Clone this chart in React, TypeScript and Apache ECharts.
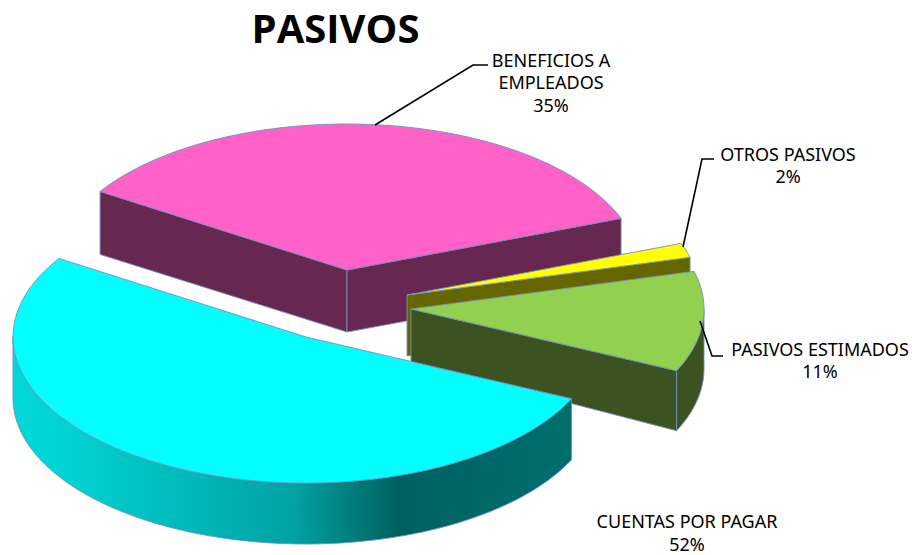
import React, { useEffect, useRef } from "react";
import * as echarts from "echarts";

const titleText = "PASIVOS";
const categories = ["CUENTAS POR PAGAR", "BENEFICIOS A\nEMPLEADOS", "OTROS PASIVOS", "PASIVOS ESTIMADOS"];
const values = [52.1, 35.2, 1.6, 11.1];

const topColors = ["#00FFFF", "#FF61C8", "#FFFF00", "#92D050"];
const cutColors = ["#006B6B", "#662850", "#666600", "#3C5220"];
const centers = [[306, 337], [347, 270], [407, 295], [411, 309]];
const depths = [61, 63, 60, 60];
const apexDepths = [61, 62, 61, 53];
const drawOrder = [1, 2, 3, 0];
const labelAnchors = [[687, 532.5], [551, 82], [788, 165], [820, 360]];
const leaders = [
  null,
  [[375, 125], [473, 65], [488, 65]],
  [[683, 247], [702, 159], [714, 159]],
  [[700, 321], [712, 356], [723, 356]],
];

const START_ANGLE = 25;
const RX = 293;
const RY = 146;
const EDGE = "#7390C0";
const FONT = "Noto Sans";

const total = values.reduce((a, b) => a + b, 0);
const spans: [number, number][] = [];
{
  let a = START_ANGLE;
  values.forEach((v) => {
    const b = a + (v / total) * 360;
    spans.push([a, b]);
    a = b;
  });
}

const pt = (c: number[], t: number, dz = 0) => {
  const r = (t * Math.PI) / 180;
  return [c[0] + RX * Math.cos(r), c[1] + RY * Math.sin(r) + dz];
};
const arc = (c: number[], a: number, b: number, dz = 0) => {
  const out: number[][] = [];
  const n = Math.max(2, Math.ceil(Math.abs(b - a)));
  for (let i = 0; i <= n; i++) out.push(pt(c, a + ((b - a) * i) / n, dz));
  return out;
};
const poly = (points: number[][], fill: any, z2 = 0) => ({
  type: "polygon",
  z2,
  shape: { points },
  style: { fill, stroke: EDGE, lineWidth: 1, lineJoin: "round", strokeOpacity: 0.9 },
});

function renderSlice(_params: any, api: any) {
  const i = api.value(0);
  const c = centers[i];
  const d = depths[i];
  const [a, b] = spans[i];
  const children: any[] = [];
  const cos = (t: number) => Math.cos((t * Math.PI) / 180);
  const wall = (t: number) => {
    const p = pt(c, t);
    return poly([c, p, [p[0], p[1] + d], [c[0], c[1] + apexDepths[i]]], cutColors[i]);
  };
  if (cos(a) < 0) children.push(wall(a));
  if (cos(b) > 0) children.push(wall(b));
  [[0, 180], [360, 540]].forEach(([lo, hi]) => {
    const s = Math.max(a, lo);
    const e = Math.min(b, hi);
    if (e <= s) return;
    const fill =
      i === 0
        ? new echarts.graphic.LinearGradient(0, 0, 1, 0, [
            { offset: 0, color: "#00D8D8" },
            { offset: 0.1, color: "#00D2D2" },
            { offset: 0.5, color: "#00A3A3" },
            { offset: 0.69, color: "#006060" },
            { offset: 1, color: "#006E6E" },
          ])
        : cutColors[i];
    children.push(poly([...arc(c, s, e), ...arc(c, e, s, d)], fill));
  });
  children.push(poly([c, ...arc(c, a, b)], topColors[i]));
  return { type: "group", children };
}

export default function App() {
  const ref = useRef<HTMLDivElement>(null);
  useEffect(() => {
    document.body.style.margin = "0";
    const chart = echarts.init(ref.current!, null, { renderer: "svg" });
    const labelEls = categories.map((name, i) => ({
      type: "text",
      x: labelAnchors[i][0],
      y: labelAnchors[i][1],
      z: 10,
      style: {
        text: `${name}\n${Math.round(values[i])}%`,
        fill: "#000",
        font: `18px "${FONT}"`,
        align: "center",
        verticalAlign: "middle",
        lineHeight: 22.5,
      },
    }));
    const leaderEls = leaders
      .filter((l) => l)
      .map((l) => ({
        type: "polyline",
        z: 9,
        shape: { points: l },
        style: { stroke: "#000", lineWidth: 1.6, fill: "none" },
      }));
    chart.setOption({
      animation: false,
      backgroundColor: "#fff",
      title: {
        text: titleText,
        left: 330.5,
        top: 2,
        textAlign: "center",
        textStyle: { fontFamily: "Open Sans", fontWeight: "bold", fontSize: 40, color: "#000" },
      },
      tooltip: { show: false },
      series: [
        {
          type: "custom",
          coordinateSystem: "none",
          renderItem: renderSlice,
          encode: { value: 0 },
          data: drawOrder.map((i) => [i]),
          silent: true,
        },
      ],
      graphic: [...leaderEls, ...labelEls],
    });
    return () => chart.dispose();
  }, []);
  return <div ref={ref} style={{ position: "fixed", left: 0, top: 0, width: 912, height: 555 }} />;
}
